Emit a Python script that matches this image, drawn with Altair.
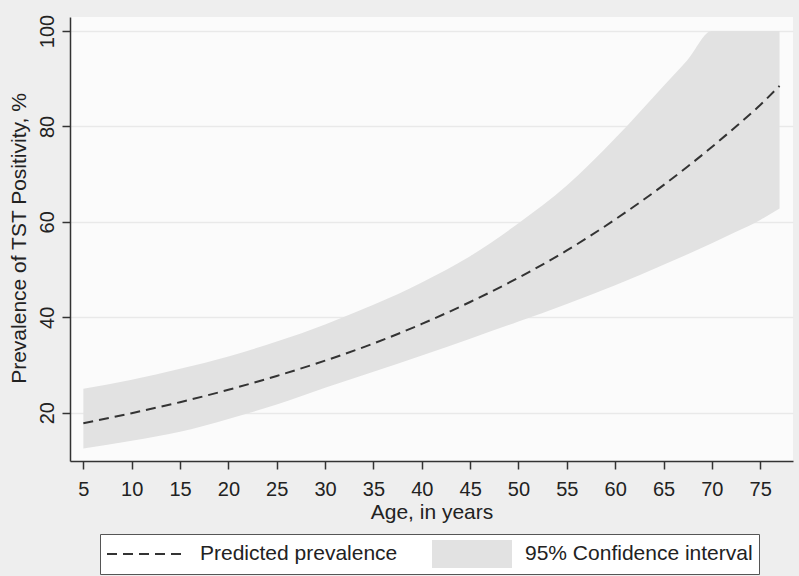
import altair as alt
import pandas as pd

# ---- data ----
ages  = [5, 10, 15, 20, 25, 30, 35, 40, 45, 50, 55, 60, 65, 67.5, 70, 72.5, 75, 77]
pred  = [17.8, 19.9, 22.2, 24.8, 27.7, 30.9, 34.5, 38.6, 43.2, 48.3, 54.0, 60.5, 67.7, 71.6, 75.7, 80.0, 84.5, 88.5]
lower = [12.5, 14.1, 16.0, 18.7, 21.7, 25.2, 28.6, 32.0, 35.5, 39.1, 42.8, 46.7, 51.0, 53.2, 55.5, 57.9, 60.4, 62.8]
upper = [25.0, 26.9, 29.2, 31.8, 34.9, 38.5, 42.6, 47.3, 52.8, 59.7, 67.6, 77.5, 88.5, 94.0, 100.0, 100.0, 100.0, 100.0]

x_ticks = [5, 10, 15, 20, 25, 30, 35, 40, 45, 50, 55, 60, 65, 70, 75]
y_ticks = [20, 40, 60, 80, 100]

LINE = "Predicted prevalence"
BAND = "95% Confidence interval"
series_names = [LINE, BAND]

FONT = "Liberation Sans"
LINE_COLOR = "#333333"
BAND_COLOR = "#e2e2e2"

df = pd.DataFrame({"age": ages, "pred": pred, "lower": lower, "upper": upper})

xs = alt.Scale(domain=[3.62, 78.39], nice=False, zero=False)
ys = alt.Scale(domain=[9.87, 102.94], nice=False, zero=False)
cs = alt.Scale(domain=series_names, range=["transparent", BAND_COLOR])

x_axis = alt.Axis(
    values=x_ticks, title="Age, in years", grid=False,
    labelFont=FONT, labelFontSize=20, labelColor="#222222", labelPadding=10,
    tickSize=8, tickColor="#333333", tickWidth=1.5,
    domainColor="#333333", domainWidth=1.5,
    titleFont=FONT, titleFontSize=21, titleFontWeight="normal", titleColor="#222222",
    titleBaseline="alphabetic", titleY=57,
)
y_axis = alt.Axis(
    values=y_ticks, title="Prevalence of TST Positivity, %",
    grid=True, gridColor="#e9e9e9", gridWidth=1.5,
    labelFont=FONT, labelFontSize=20, labelColor="#222222",
    labelAngle=270, labelAlign="center", labelBaseline="bottom", labelPadding=5,
    tickSize=8, tickColor="#333333", tickWidth=1.5,
    domainColor="#333333", domainWidth=1.5,
    titleFont=FONT, titleFontSize=21, titleFontWeight="normal", titleColor="#222222",
    titleAngle=270, titleAlign="center", titleBaseline="alphabetic",
    titleX=-45, titleY=221,
)

is_line = "datum.value === '" + LINE + "'"
legend = alt.Legend(
    title=None, orient="none", legendX=30, legendY=517,
    direction="horizontal", columns=2, columnPadding=33,
    fillColor="white", strokeColor="#555555", padding=6,
    labelFont=FONT, labelFontSize=21, labelColor="#222222", labelOffset=12, labelLimit=400,
    symbolSize=6400, clipHeight=28, symbolStrokeWidth=2,
    symbolType=alt.ExprRef(expr=is_line + " ? 'stroke' : 'M-1,-0.35H1V0.35H-1Z'"),
    symbolDash=alt.ExprRef(expr=is_line + " ? [10, 6] : [1, 0]"),
    symbolStrokeColor=alt.ExprRef(expr=is_line + " ? '" + LINE_COLOR + "' : 'transparent'"),
)

base = alt.Chart(df)

band = base.transform_calculate(series="'" + BAND + "'").mark_area(
    interpolate="monotone", opacity=1
).encode(
    x=alt.X("age:Q", scale=xs, axis=x_axis),
    y=alt.Y("lower:Q", scale=ys, axis=y_axis),
    y2="upper:Q",
    color=alt.Color("series:N", scale=cs, legend=legend),
)

line = base.mark_line(
    interpolate="monotone", color=LINE_COLOR, strokeWidth=2, strokeDash=[10, 6]
).encode(
    x=alt.X("age:Q", scale=xs),
    y=alt.Y("pred:Q", scale=ys),
)

chart = alt.layer(band, line).properties(
    width=723, height=444,
    autosize=alt.AutoSizeParams(type="none"),
    padding={"left": 70, "top": 17, "right": 6, "bottom": 115},
    background="#eeeeee",
).configure_view(fill="#fbfbfb", strokeWidth=0)

chart.save("out.html", embed_options={"renderer": "svg", "actions": False})
